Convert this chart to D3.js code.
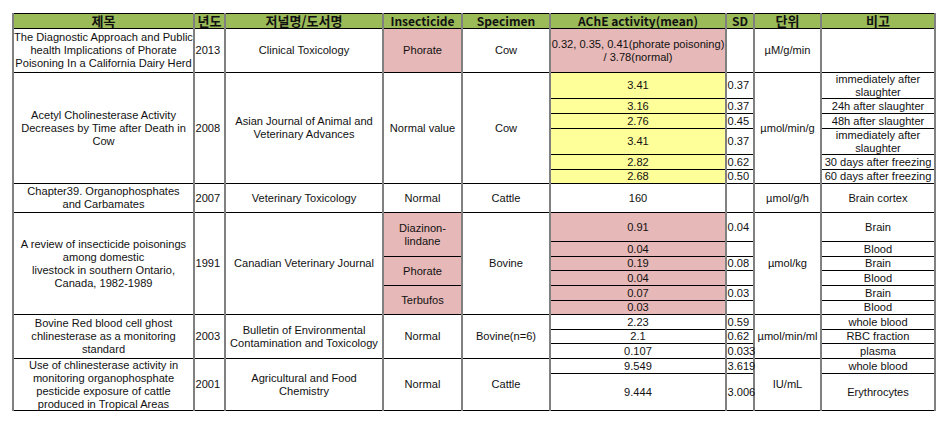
<!DOCTYPE html>
<html><head><meta charset="utf-8">
<script src="https://cdn.jsdelivr.net/npm/d3@7"></script>
<style>
html,body{margin:0;padding:0;background:#fff;}
svg text{fill:#111;}
</style></head>
<body><svg id="c" width="947" height="422"></svg>
<script>
// ---- data ----
const columns = ["제목","년도","저널명/도서명","Insecticide","Specimen","AChE activity(mean)","SD","단위","비고"];
const titles = [
  "The Diagnostic Approach and Public\nhealth Implications of Phorate\nPoisoning In a California Dairy Herd",
  "Acetyl Cholinesterase Activity\nDecreases by Time after Death in\nCow",
  "Chapter39. Organophosphates\nand Carbamates",
  "A review of insecticide poisonings\namong domestic\nlivestock in southern Ontario,\nCanada, 1982-1989",
  "Bovine Red blood cell ghost\nchlinesterase as a monitoring\nstandard",
  "Use of chlinesterase activity in\nmonitoring organophosphate\npesticide exposure of cattle\nproduced in Tropical Areas"
];
const years = ["2013","2008","2007","1991","2003","2001"];
const journals = [
  "Clinical Toxicology",
  "Asian Journal of Animal and\nVeterinary Advances",
  "Veterinary Toxicology",
  "Canadian Veterinary Journal",
  "Bulletin of Environmental\nContamination and Toxicology",
  "Agricultural and Food\nChemistry"
];
const insecticides = [["Phorate"],["Normal value"],["Normal"],["Diazinon-\nlindane","Phorate","Terbufos"],["Normal"],["Normal"]];
const specimens = ["Cow","Cow","Cattle","Bovine","Bovine(n=6)","Cattle"];
const units = ["µM/g/min","µmol/min/g","µmol/g/h","µmol/kg","µmol/min/ml","IU/mL"];
// per measurement row
const activity = ["0.32, 0.35, 0.41(phorate poisoning)\n/ 3.78(normal)",
  "3.41","3.16","2.76","3.41","2.82","2.68",
  "160",
  "0.91","0.04","0.19","0.04","0.07","0.03",
  "2.23","2.1","0.107",
  "9.549","9.444"];
const sdValues = ["",
  "0.37","0.37","0.45","0.37","0.62","0.50",
  "",
  "0.04","","0.08","","0.03","",
  "0.59","0.62","0.033",
  "3.619","3.006"];
const remarks = ["",
  "immediately after\nslaughter","24h after slaughter","48h after slaughter","immediately after\nslaughter","30 days after freezing","60 days after freezing",
  "Brain cortex",
  "Brain","Blood","Brain","Blood","Brain","Blood",
  "whole blood","RBC fraction","plasma",
  "whole blood","Erythrocytes"];
const rowsPerStudy = [1,6,1,6,3,2];

// ---- layout ----
const colEdges = [13,194,225,383,462,550,726,754,821,935];
const rowEdges = [13,28,72,98,113,128,154,169,183,212,241,256,270,285,300,314,329,343,358,373,410];
const x = d3.scaleLinear().domain(d3.range(colEdges.length)).range(colEdges);
const y = d3.scaleLinear().domain(d3.range(rowEdges.length)).range(rowEdges);
const GREEN = "#9BBB59", PINK = "#E6B8B7", YELLOW = "#FFFF99";
const lineH = 13;

const cells = [];
columns.forEach((c,i)=>cells.push({col:i,r0:0,r1:1,text:c,header:true,fill:GREEN}));
let r = 1;
rowsPerStudy.forEach((n,g)=>{
  const r0 = r, r1 = r + n;
  cells.push({col:0,r0,r1,text:titles[g]});
  cells.push({col:1,r0,r1,text:years[g],align:"start"});
  cells.push({col:2,r0,r1,text:journals[g]});
  const ins = insecticides[g], k = n / ins.length;
  ins.forEach((t,j)=>cells.push({col:3,r0:r0+j*k,r1:r0+(j+1)*k,text:t,fill:(g===0||g===3)?PINK:null}));
  cells.push({col:4,r0,r1,text:specimens[g]});
  cells.push({col:7,r0,r1,text:units[g]});
  for(let i=r0;i<r1;i++){
    cells.push({col:5,r0:i,r1:i+1,text:activity[i-1],fill:(g===0||g===3)?PINK:(g===1?YELLOW:null)});
    cells.push({col:6,r0:i,r1:i+1,text:sdValues[i-1],align:"start"});
    cells.push({col:8,r0:i,r1:i+1,text:remarks[i-1]});
  }
  r = r1;
});

const svg = d3.select("#c");
// fills
svg.append("g").selectAll("rect").data(cells.filter(d=>d.fill)).join("rect")
  .attr("x",d=>x(d.col)).attr("y",d=>y(d.r0))
  .attr("width",d=>x(d.col+1)-x(d.col)).attr("height",d=>y(d.r1)-y(d.r0))
  .attr("fill",d=>d.fill);
// horizontal borders
const hl = svg.append("g").attr("stroke","#000").attr("stroke-width",1);
cells.forEach(d=>{
  [d.r0,d.r1].forEach(rr=>{
    hl.append("line").attr("x1",x(d.col)).attr("x2",x(d.col+1))
      .attr("y1",Math.round(y(rr))+0.5).attr("y2",Math.round(y(rr))+0.5);
  });
});
// vertical borders
svg.append("g").selectAll("line").data(colEdges).join("line")
  .attr("x1",d=>d).attr("x2",d=>d).attr("y1",rowEdges[0]).attr("y2",rowEdges[rowEdges.length-1]+1)
  .attr("stroke","#808080").attr("stroke-width",2);
// texts
const tg = svg.append("g");
const isHangul = s => /[\uac00-\ud7a3]/.test(s);
cells.forEach(d=>{
  if(!d.text) return;
  const lines = d.text.split("\n");
  const cy = (y(d.r0)+y(d.r1))/2;
  const start = d.align==="start";
  const tx = start ? x(d.col)+1.5 : (x(d.col)+x(d.col+1))/2;
  const t = tg.append("text")
    .attr("text-anchor", start?"start":"middle")
    .attr("font-family", d.header? "'Noto Sans CJK KR', sans-serif" : "'Liberation Sans', Arial, sans-serif")
    .attr("font-size", d.header? (isHangul(d.text)?"13px":"12px") : "11.1px")
    .attr("font-weight", d.header? "bold":"normal");
  lines.forEach((ln,i)=>{
    t.append("tspan").attr("x",tx)
      .attr("y", cy + (i-(lines.length-1)/2)*lineH)
      .attr("dominant-baseline","central")
      .text(ln);
  });
});
</script></body></html>
